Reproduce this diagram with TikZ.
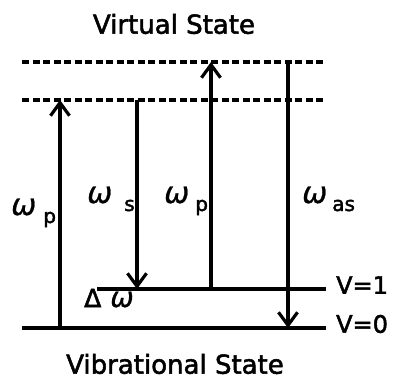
\documentclass[tikz,border=0pt]{standalone}
\usepackage{fontspec}
\setmainfont{DejaVu Sans}[FakeBold=2]
\newfontfamily\omegafont{DejaVu Sans}[FakeBold=0.8]
\usetikzlibrary{arrows.meta}

\newcommand{\lowsub}[1]{\raisebox{-8pt}{\fontsize{20}{22}\selectfont\normalfont #1}}
\tikzset{
  level/.style={line width=3.4pt},
  virtual/.style={line width=3.2pt, dash pattern=on 7pt off 3.5pt},
  trans/.style={line width=3.2pt, -{Straight Barb[length=13pt,width=19pt]}},
  lbl/.style={inner sep=0pt, font=\fontsize{26}{30}\selectfont},
  freq/.style={lbl, anchor=base west, font=\fontsize{30}{34}\selectfont\omegafont\itshape}
}

\begin{document}
\begin{tikzpicture}[x=1pt,y=-1pt]
    \useasboundingbox (0,0) rectangle (393,385);

    % Levels
    \coordinate (top-w) at (22,62);   \coordinate (top-e) at (326,62);
    \coordinate (mid-w) at (22,100);  \coordinate (mid-e) at (326,100);
    \coordinate (one-w) at (97,289);  \coordinate (one-e) at (326,289);
    \coordinate (zero-w) at (22,328); \coordinate (zero-e) at (326,328);
    \draw[virtual] (top-w) -- (top-e);
    \draw[virtual] (mid-w) -- (mid-e);
    \draw[level] (one-w) -- (one-e);
    \draw[level] (zero-w) -- (zero-e);

    % Transitions
    \coordinate (p1-from) at (60,328);  \coordinate (p1-to) at (60,100);
    \coordinate (s-from) at (137,100);  \coordinate (s-to) at (137,289);
    \coordinate (p2-from) at (211,289); \coordinate (p2-to) at (211,62);
    \coordinate (as-from) at (288,62);  \coordinate (as-to) at (288,328);
    \draw[trans] (p1-from) -- (p1-to);
    \draw[trans] (s-from) -- (s-to);
    \draw[trans] (p2-from) -- (p2-to);
    \draw[trans] (as-from) -- (as-to);

    % Labels
    \node[freq] (wp1) at (11,215) {ω\hspace{7pt}\lowsub{p}};
    \node[freq] (ws) at (87,203) {ω\hspace{12pt}\lowsub{s}};
    \node[freq] (wp2) at (164,203) {ω\hspace{6pt}\lowsub{p}};
    \node[freq] (was) at (302,203) {ω\hspace{5pt}\lowsub{as}};
    \node[freq] (dw) at (84,307) {\normalfont\fontsize{25}{30}\selectfont Δ\hspace{9pt}\omegafont\itshape\fontsize{28}{34}\selectfont ω};

    \node[lbl, anchor=west, font=\fontsize{24}{28}\selectfont] (v1) at (336,285) {V=1};
    \node[lbl, anchor=west, font=\fontsize{24}{28}\selectfont] (v0) at (336,324) {V=0};
    \node[lbl] (virt) at (174,24) {Virtual State};
    \node[lbl] (vib) at (175,364) {Vibrational State};
\end{tikzpicture}
\end{document}
